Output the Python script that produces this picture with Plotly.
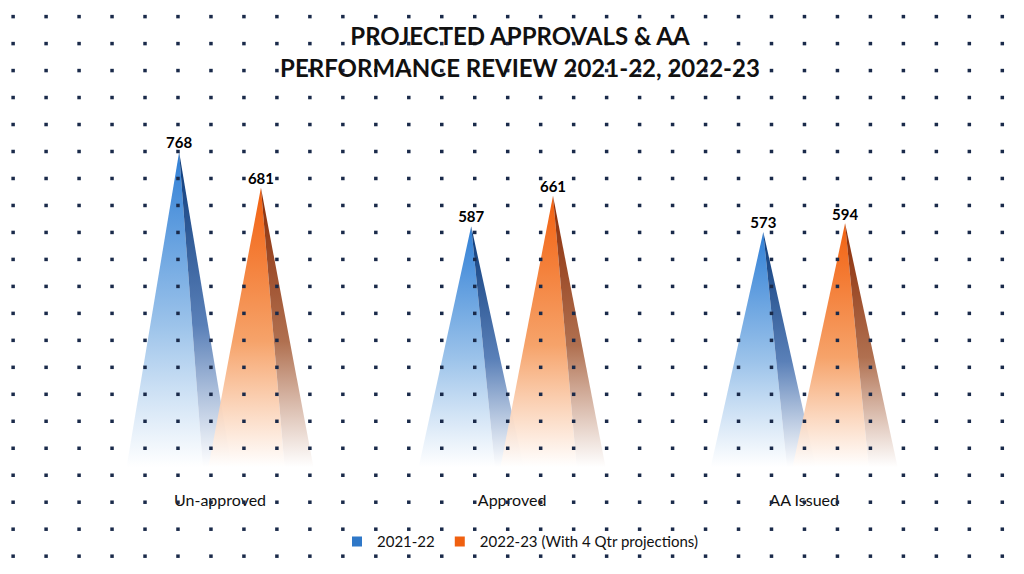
import plotly.graph_objects as go
import numpy as np

categories = ["Un-approved", "Approved", "AA Issued"]
series_names = ["2021-22", "2022-23 (With 4 Qtr projections)"]
values_2122 = [768, 587, 573]
values_2223 = [681, 661, 594]

light = [["rgba(255,255,255,0.9)", "#9cc3ea", "#2f7fd6"], ["rgba(255,255,255,0.9)", "#f6a36a", "#f2600f"]]
dark = [["rgba(255,255,255,0.9)", "#5a80b8", "#0b3a7a"], ["rgba(255,255,255,0.9)", "#b07050", "#8a2a05"]]
legend_col = ["#2f78c8", "#f06010"]

fig = go.Figure()

# dotted background
xs, ys = [], []
for r, yy in enumerate(np.arange(0.985, -0.02, -0.047)):
    for xx in np.arange(0.005, 1.0, 0.0322):
        xs.append(xx); ys.append(yy)
fig.add_trace(go.Scatter(x=xs, y=ys, mode="markers", xaxis="x2", yaxis="y2",
                         marker=dict(symbol="square", size=3.5, color="#1a2a4a"),
                         hoverinfo="skip", showlegend=False))

offset = 0.14
hw = 0.18
for s, vals in enumerate([values_2122, values_2223]):
    for i, v in enumerate(vals):
        c = i + (-offset if s == 0 else offset)
        ridge = c + 0.45 * hw
        fig.add_trace(go.Scatter(x=[c - hw, c, ridge, c - hw], y=[0, v, 0, 0], fill="toself", mode="none",
                                 fillgradient=dict(type="vertical", colorscale=[[0, light[s][0]], [0.45, light[s][1]], [1, light[s][2]]]),
                                 hoverinfo="skip", showlegend=False))
        fig.add_trace(go.Scatter(x=[ridge, c, c + hw, ridge], y=[0, v, 0, 0], fill="toself", mode="none",
                                 fillgradient=dict(type="vertical", colorscale=[[0, dark[s][0]], [0.45, dark[s][1]], [1, dark[s][2]]]),
                                 hoverinfo="skip", showlegend=False))
    fig.add_trace(go.Scatter(x=[i + (-offset if s == 0 else offset) for i in range(3)], y=vals,
                             mode="text", text=[str(v) for v in vals], textposition="top center",
                             textfont=dict(size=15, color="black", family="Lato", weight="bold"),
                             showlegend=False, hoverinfo="skip"))
    fig.add_trace(go.Scatter(x=[None], y=[None], mode="markers", name=series_names[s],
                             marker=dict(symbol="square", size=10, color=legend_col[s])))

fig.update_layout(
    width=1024, height=574, margin=dict(l=0, r=0, t=0, b=0),
    paper_bgcolor="white", plot_bgcolor="rgba(0,0,0,0)",
    title=dict(text="<b>PROJECTED APPROVALS & AA<br>PERFORMANCE REVIEW 2021-22, 2022-23</b>",
               x=0.5, y=0.935, xanchor="center", yanchor="top",
               font=dict(size=24, color="#111", family="Lato")),
    xaxis=dict(range=[-0.726, 2.78], tickvals=[0, 1, 2], ticktext=categories, showgrid=False,
               zeroline=False, showline=False, ticks="", tickfont=dict(size=16, color="#111", family="Lato"),
               ticklabelstandoff=22, domain=[0, 1]),
    yaxis=dict(range=[0, 839], domain=[0.2, 0.8], visible=False),
    xaxis2=dict(range=[0, 1], visible=False, overlaying="x", layer="below traces"),
    yaxis2=dict(range=[0, 1], visible=False, anchor="x2", domain=[0, 1], layer="below traces"),
    legend=dict(orientation="h", x=0.5, xanchor="center", y=0.07, yanchor="middle",
                font=dict(size=15, color="#111", family="Lato"), bgcolor="rgba(0,0,0,0)"),
)
fig.write_html("out.html")
